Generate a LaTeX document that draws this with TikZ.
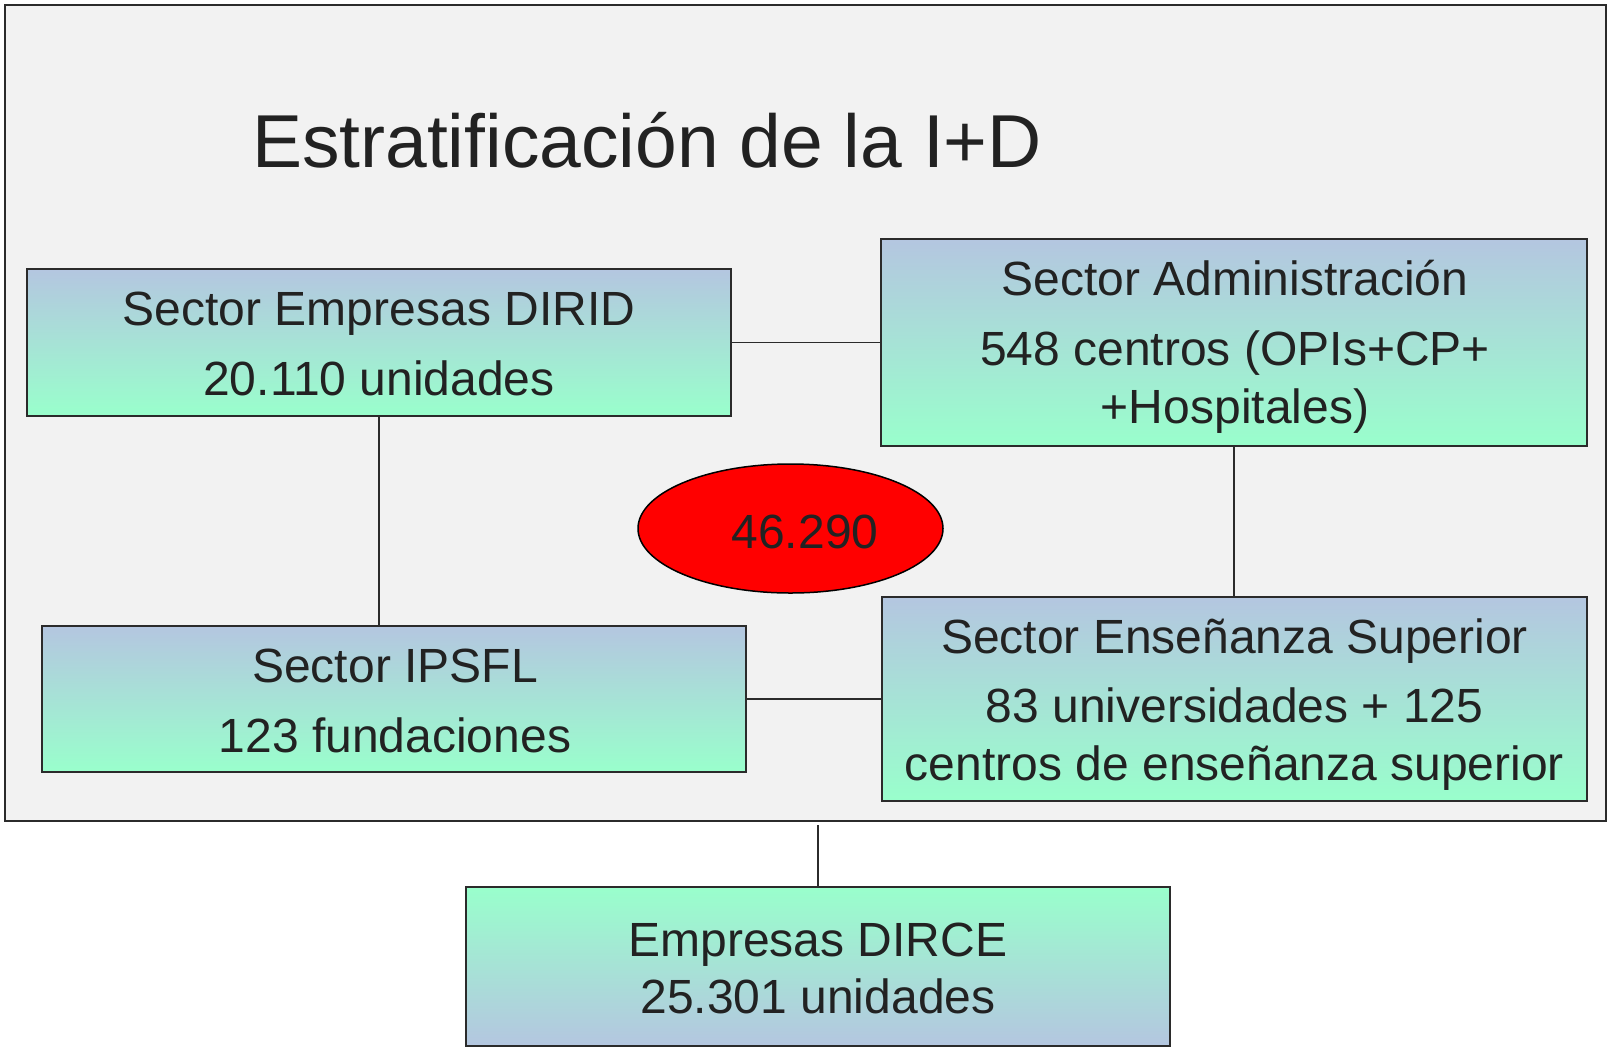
\documentclass[tikz,border=0pt]{standalone}
\usepackage{fontspec}
\setmainfont{Liberation Sans}
\usetikzlibrary{shapes.geometric,calc}
\definecolor{frameFill}{HTML}{F2F2F2}
\definecolor{lineC}{HTML}{2B2B2B}
\definecolor{txtC}{HTML}{222222}
\definecolor{boxBlue}{HTML}{B4C6E0}
\definecolor{boxGreen}{HTML}{99FFCC}
\begin{document}
\begin{tikzpicture}[x=1pt,y=-1pt,
  box/.style={draw=lineC, line width=2pt, rectangle, inner sep=0pt, top color=boxBlue, bottom color=boxGreen},
  boxrev/.style={draw=lineC, line width=2pt, rectangle, inner sep=0pt, top color=boxGreen, bottom color=boxBlue},
  txt/.style={anchor=base, inner sep=0pt, text=txtC, font=\fontsize{48}{57}\selectfont},
  conn/.style={draw=lineC, line width=1.5pt}]
\useasboundingbox (0,0) rectangle (1608,1050);
\fill[white] (0,0) rectangle (1608,1050);
\draw[draw=lineC, line width=2pt, fill=frameFill] (5,5) rectangle (1606,821);
\coordinate (fb) at (818,825);
% title
\node[anchor=base, inner sep=0pt, text=txtC, font=\fontsize{75}{80}\selectfont] (title) at (647,167) {Estratificación de la I+D};
% boxes
\node[box, minimum width=704pt, minimum height=147pt] (b1) at (379,342.5) {};
\node[box, minimum width=706pt, minimum height=207pt] (b2) at (1234,342.5) {};
\node[box, minimum width=704pt, minimum height=146pt] (b3) at (394,699) {};
\node[box, minimum width=705pt, minimum height=204pt] (b4) at (1234.5,699) {};
\node[boxrev, minimum width=704pt, minimum height=159pt] (b5) at (818,966.5) {};
% ellipse
\node[ellipse, draw=black, line width=1.5pt, fill=red, minimum width=305pt, minimum height=129pt, inner sep=0pt] (tot) at (790.5,528.5) {};
\node[txt] (totT) at (805,548) {46.290};
% texts
\node[txt] (b1a) at ($(b1.north)+(0,57)$) {Sector Empresas DIRID};
\node[txt] (b1b) at ($(b1.north)+(0,127)$) {20.110 unidades};
\node[txt] (b2a) at ($(b2.north)+(1,57)$) {Sector Administración};
\node[txt] (b2b) at ($(b2.north)+(1,127)$) {548 centros (OPIs+CP+};
\node[txt] (b2c) at ($(b2.north)+(1,185)$) {+Hospitales)};
\node[txt] (b3a) at ($(b3.north)+(1,57)$) {Sector IPSFL};
\node[txt] (b3b) at ($(b3.north)+(1,127)$) {123 fundaciones};
\node[txt] (b4a) at ($(b4.north)+(0,57)$) {Sector Enseñanza Superior};
\node[txt] (b4b) at ($(b4.north)+(0,126)$) {83 universidades + 125};
\node[txt] (b4c) at ($(b4.north)+(0,184)$) {centros de enseñanza superior};
\node[txt] (b5a) at ($(b5.north)+(0,70)$) {Empresas DIRCE};
\node[txt] (b5b) at ($(b5.north)+(0,127)$) {25.301 unidades};
% connectors
\draw[conn] (b1.east) -- (b2.west);
\draw[conn] (b1.south) -- (b1.south |- b3.north);
\draw[conn] (b2.south) -- (b2.south |- b4.north);
\draw[conn] (b3.east) -- (b3.east -| b4.west);
\draw[conn] (b5.north) -- (b5.north |- fb);
\end{tikzpicture}
\end{document}
